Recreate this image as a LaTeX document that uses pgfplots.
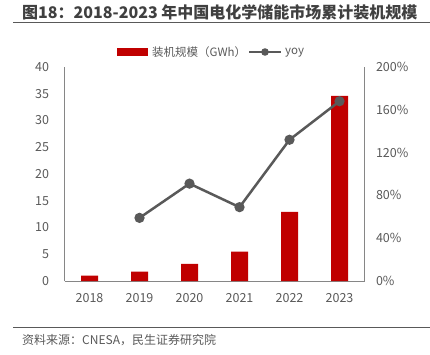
\documentclass[border=0pt]{standalone}
\usepackage{pgfplots}
\pgfplotsset{compat=1.18}
\usepackage{fontspec}
\setmainfont{Noto Sans CJK SC}
\definecolor{barred}{HTML}{C00000}
\definecolor{linegray}{HTML}{595959}
\definecolor{txt}{HTML}{595959}
\definecolor{axgray}{HTML}{868686}
\begin{document}
\begin{tikzpicture}
\useasboundingbox (0pt,0pt) rectangle (430pt,354pt);
% title
\node[anchor=base west, text=black!75, font=\fontsize{16}{18}\selectfont\bfseries, inner sep=0] at (22pt,335pt) {图18：2018-2023 年中国电化学储能市场累计装机规模};
\draw[black!65, line width=1pt] (13pt,331pt) -- (430pt,331pt);
% legend
\fill[barred] (117pt,298pt) rectangle (148pt,306pt);
\node[anchor=west, text=txt, font=\fontsize{11.5}{14}\selectfont, inner sep=0] at (152pt,302pt) {装机规模（GWh）};
\draw[linegray, line width=2.5pt] (249pt,302pt) -- (281pt,302pt);
\fill[linegray] (265pt,302pt) circle (3.8pt);
\node[anchor=west, text=txt, font=\fontsize{11.5}{14}\selectfont, inner sep=0] at (285pt,301pt) {yoy};
% axes
\begin{axis}[
  at={(64.5pt,73pt)}, anchor=south west,
  scale only axis, width=300pt, height=214pt,
  xmin=-0.5, xmax=5.5, ymin=0, ymax=40,
  axis x line*=bottom, axis y line*=left,
  axis line style={axgray, line width=0.8pt},
  xtick={0,1,2,3,4,5},
  xticklabels={2018,2019,2020,2021,2022,2023},
  ytick={0,5,...,40},
  major tick length=0pt,
  tick style={draw=none},
  ticklabel style={text=txt, font=\fontsize{12.5}{14}\selectfont},
  /pgf/number format/assume math mode=true,
  xticklabel style={yshift=-9pt},
  yticklabel style={xshift=-12pt},
  clip=false,
]
\addplot[ybar, bar width=17pt, fill=barred, draw=none] coordinates {
 (0,1.0) (1,1.74) (2,3.2) (3,5.5) (4,12.9) (5,34.6)
};
\end{axis}
\begin{axis}[
  at={(64.5pt,73pt)}, anchor=south west,
  scale only axis, width=300pt, height=214pt,
  xmin=-0.5, xmax=5.5, ymin=0, ymax=200,
  axis y line*=right, axis x line=none,
  axis line style={axgray, line width=0.8pt},
  ytick={0,40,...,200},
  yticklabel={\pgfmathprintnumber{\tick}\%},
  major tick length=0pt,
  tick style={draw=none},
  ticklabel style={text=txt, font=\fontsize{12.5}{14}\selectfont},
  /pgf/number format/assume math mode=true,
  yticklabel style={xshift=8pt},
  clip=false,
]
\addplot[linegray, line width=2.5pt, mark=*, mark size=3.8pt, mark options={fill=linegray, draw=linegray}] coordinates {
 (1,59) (2,91) (3,69) (4,132) (5,168)
};
\end{axis}
% source
\draw[black!65, line width=1pt] (13pt,27pt) -- (430pt,27pt);
\node[anchor=base west, text=txt, font=\fontsize{12}{14}\selectfont, inner sep=0] at (22pt,10pt) {资料来源：CNESA，民生证券研究院};
\end{tikzpicture}
\end{document}
